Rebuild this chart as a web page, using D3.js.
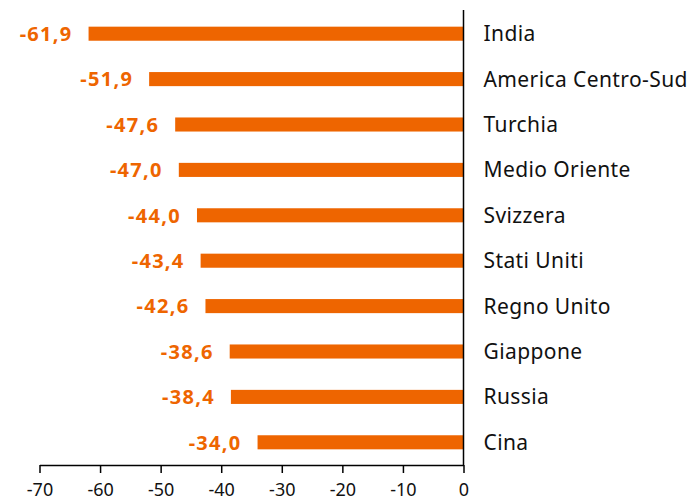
<!DOCTYPE html>
<html><head><meta charset="utf-8">
<script src="https://cdn.jsdelivr.net/npm/d3@7"></script>
<style>body{margin:0;background:#fff}svg{display:block}</style>
</head><body>
<svg id="c" width="696" height="502"></svg>
<script>
const categories = ["India","America Centro-Sud","Turchia","Medio Oriente","Svizzera","Stati Uniti","Regno Unito","Giappone","Russia","Cina"];
const values = [-61.9,-51.9,-47.6,-47.0,-44.0,-43.4,-42.6,-38.6,-38.4,-34.0];
const tickValues = [-70,-60,-50,-40,-30,-20,-10,0];

const svg = d3.select("#c");
const font = "'Noto Sans', sans-serif";
const color = "#EE6500";
const x = d3.scaleLinear().domain([-70,0]).range([39.5,463.5]);
const y = d3.scaleBand().domain(categories).range([11,465]).paddingInner(0.69).paddingOuter(0.345);

svg.selectAll("rect.bar").data(values).enter().append("rect")
  .attr("x", d=>x(d)).attr("width", d=>x(0)-x(d))
  .attr("y", (d,i)=>y(categories[i])).attr("height", y.bandwidth())
  .attr("fill", color);

svg.selectAll("text.val").data(values).enter().append("text")
  .attr("x", d=>x(d)-16).attr("y", (d,i)=>y(categories[i])+y.bandwidth()/2)
  .attr("dy","0.36em").attr("text-anchor","end")
  .attr("font-family",font).attr("font-weight","bold").attr("font-size",20)
  .attr("letter-spacing","1.3px")
  .attr("fill",color).text(d=>d.toFixed(1).replace(".",","));

svg.selectAll("text.cat").data(categories).enter().append("text")
  .attr("x", x(0)+20).attr("y", d=>y(d)+y.bandwidth()/2)
  .attr("dy","0.36em").attr("font-family",font).attr("font-size",21)
  .attr("letter-spacing","0.4px")
  .attr("fill","#111").text(d=>d);

svg.append("line").attr("x1",x(0)).attr("x2",x(0)).attr("y1",10).attr("y2",465)
  .attr("stroke","#000").attr("stroke-width",1.5);

const ax = svg.append("g").attr("transform","translate(0,465)")
  .call(d3.axisBottom(x).tickValues(tickValues).tickSize(8).tickPadding(10).tickSizeOuter(0).tickFormat(d3.format("d")));
ax.select(".domain").attr("stroke","#000").attr("stroke-width",1.5);
ax.selectAll(".tick line").attr("stroke","#000").attr("stroke-width",1.5);
ax.selectAll(".tick text").attr("font-family",font).attr("font-size",18).attr("fill","#111")
  .text(d=>String(d).replace("\u2212","-"));
</script>
</body></html>
